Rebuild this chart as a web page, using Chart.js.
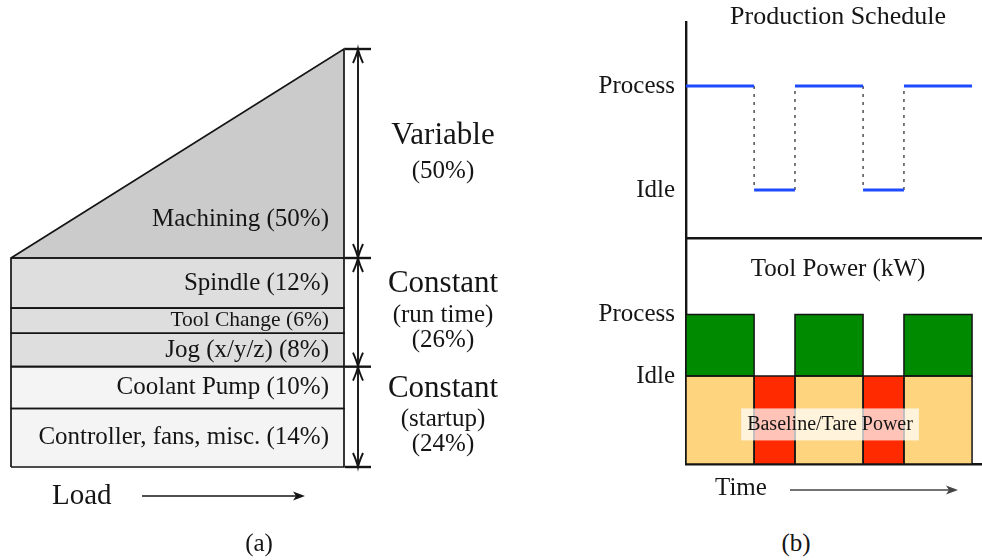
<!DOCTYPE html>
<html>
<head>
<meta charset="utf-8">
<script src="https://cdn.jsdelivr.net/npm/chart.js@4.4.1/dist/chart.umd.min.js"></script>
<style>
  html, body { margin: 0; padding: 0; background: #fff; overflow: hidden; }
  body { width: 982px; height: 560px; position: relative; font-family: "Liberation Serif", "DejaVu Serif", serif; }
  canvas { position: absolute; }
  #loadChart { left: 0; top: 0; }
  #scheduleChart { left: 560px; top: 0; }
  #powerChart { left: 560px; top: 236px; }
  .cap { position: absolute; top: 530px; font-size: 25px; line-height: 25px; color: #151515; transform: translateX(-50%); }
</style>
</head>
<body>
<canvas id="loadChart" width="540" height="560"></canvas>
<canvas id="scheduleChart" width="422" height="240"></canvas>
<canvas id="powerChart" width="422" height="270"></canvas>
<div class="cap" style="left:259px">(a)</div>
<div class="cap" style="left:796px">(b)</div>

<script>
// ---------- (a) share of energy per consumer, against machine load ----------
const loadRange = [0, 1];
const bandNames = ['Controller, fans, misc.', 'Coolant Pump', 'Jog (x/y/z)', 'Tool Change', 'Spindle', 'Machining'];
const bandShares = [14, 10, 8, 6, 12, 50];
const bandVariable = [false, false, false, false, false, true];
const groupTitles = ['Constant', 'Constant', 'Variable'];
const groupNotes = [['(startup)'], ['(run time)'], []];
const groupShares = [24, 26, 50];

// ---------- (b) production schedule and tool power over time ----------
const phaseBounds = [0, 5, 8, 13, 16, 21];
const phaseStates = ['Process', 'Idle', 'Process', 'Idle', 'Process'];
const stateNames = ['Idle', 'Process'];
const scheduleLevels = [0, 1];
const basePower = 1.0;      // baseline / tare power
const processPower = 1.7;   // power while cutting
const powerTickValues = [basePower, processPower];

// ---------- styling ----------
const ink = '#151515';
const serif = '"Liberation Serif", "DejaVu Serif", serif';
const bandColors = ['#f4f4f4', '#f4f4f4', '#dedede', '#dedede', '#dedede', '#cbcbcb'];
const bandFontSizes = [25, 25, 25, 21.5, 25, 25];
const colProcess = '#008a00', colBase = '#fed47f', colIdle = '#ff2a00', colSchedule = '#1e4bff';

Chart.defaults.font.family = serif;
Chart.defaults.color = ink;

// A filled region (top edge hi0 -> hi1, down to lo) plus its closed outline.
function region(x0, x1, lo, hi0, hi1, color, outlineWidth) {
  return [
    {
      data: [{x: x0, y: hi0}, {x: x1, y: hi1}],
      fill: {value: lo}, backgroundColor: color,
      borderWidth: 0, pointRadius: 0, order: 2
    },
    {
      data: [{x: x0, y: lo}, {x: x0, y: hi0}, {x: x1, y: hi1}, {x: x1, y: lo}, {x: x0, y: lo}],
      fill: false, borderColor: ink, borderWidth: outlineWidth,
      pointRadius: 0, clip: false, order: 1, borderJoinStyle: 'miter'
    }
  ];
}

function solidArrow(ctx, x0, x1, y, color, width) {
  ctx.save();
  ctx.strokeStyle = color; ctx.fillStyle = color; ctx.lineWidth = width;
  ctx.beginPath(); ctx.moveTo(x0, y); ctx.lineTo(x1 - 8, y); ctx.stroke();
  ctx.beginPath(); ctx.moveTo(x1, y); ctx.lineTo(x1 - 12, y - 4.5); ctx.lineTo(x1 - 9, y); ctx.lineTo(x1 - 12, y + 4.5); ctx.closePath(); ctx.fill();
  ctx.restore();
}

function openHead(ctx, x, y, dir) {
  ctx.beginPath();
  ctx.moveTo(x - 5, y - dir * 14);
  ctx.quadraticCurveTo(x - 1, y - dir * 5, x, y);
  ctx.quadraticCurveTo(x + 1, y - dir * 5, x + 5, y - dir * 14);
  ctx.stroke();
}

function drawAll() {
// ---------- chart (a) ----------
const loadSets = [];
{
  let lo = 0;
  bandShares.forEach((s, i) => {
    const hi = lo + s;
    loadSets.push(...region(loadRange[0], loadRange[1], lo, bandVariable[i] ? lo : hi, hi, bandColors[i], 1.7));
    lo = hi;
  });
}

const loadNotes = {
  id: 'loadNotes',
  afterDatasetsDraw(chart) {
    const {ctx, chartArea: a, scales: {x, y}} = chart;
    const right = x.getPixelForValue(loadRange[1]);
    ctx.save();
    ctx.fillStyle = ink;
    ctx.textBaseline = 'middle';
    ctx.textAlign = 'right';
    let lo = 0;
    bandNames.forEach((name, i) => {
      const hi = lo + bandShares[i];
      const yb = y.getPixelForValue(lo), yt = y.getPixelForValue(hi);
      const ty = bandVariable[i] ? yb - 39 : (yb + yt) / 2;
      ctx.font = bandFontSizes[i] + 'px ' + serif;
      ctx.fillText(name + ' (' + bandShares[i] + '%)', right - 15, ty);
      lo = hi;
    });

    // group brackets with double arrows
    const bounds = [0];
    groupShares.forEach(s => bounds.push(bounds[bounds.length - 1] + s));
    const bx = right + 14;
    ctx.strokeStyle = ink;
    ctx.lineWidth = 2.4;
    bounds.forEach(v => {
      const py = y.getPixelForValue(v);
      ctx.beginPath(); ctx.moveTo(right + 1, py); ctx.lineTo(right + 27, py); ctx.stroke();
    });
    ctx.lineWidth = 1.9;
    ctx.textAlign = 'center';
    groupShares.forEach((s, g) => {
      const p0 = y.getPixelForValue(bounds[g]), p1 = y.getPixelForValue(bounds[g + 1]);
      ctx.beginPath(); ctx.moveTo(bx, p0); ctx.lineTo(bx, p1); ctx.stroke();
      openHead(ctx, bx, p1, -1);
      openHead(ctx, bx, p0, 1);
      const lines = [groupTitles[g], ...groupNotes[g], '(' + s + '%)'];
      const offs = lines.length === 2 ? [-18, 18] : [-28, 3, 28];
      const cy = (p0 + p1) / 2, cx = right + 99;
      lines.forEach((t, k) => {
        ctx.font = (k === 0 ? 31 : 25) + 'px ' + serif;
        ctx.fillText(t, cx, cy + offs[k]);
      });
    });

    // load axis caption
    ctx.textAlign = 'left';
    ctx.font = '29px ' + serif;
    ctx.fillText('Load', a.left + 41, a.bottom + 29);
    ctx.restore();
    solidArrow(ctx, a.left + 131, a.left + 294, a.bottom + 29, ink, 1.5);
  }
};

new Chart(document.getElementById('loadChart'), {
  type: 'line',
  data: {datasets: loadSets},
  options: {
    responsive: false, animation: false, devicePixelRatio: 1, events: [],
    layout: {padding: {left: 11, top: 49, right: 196, bottom: 93}},
    plugins: {legend: {display: false}, tooltip: {enabled: false}},
    scales: {
      x: {type: 'linear', display: false, min: loadRange[0], max: loadRange[1]},
      y: {type: 'linear', display: false, min: 0, max: 100}
    }
  },
  plugins: [loadNotes]
});

// ---------- chart (b), upper: production schedule ----------
const levelOf = s => scheduleLevels[stateNames.indexOf(s)];
const schedulePoints = [];
const switchPoints = [];
phaseStates.forEach((s, i) => {
  const lv = levelOf(s);
  schedulePoints.push({x: phaseBounds[i], y: lv}, {x: phaseBounds[i + 1], y: lv}, {x: phaseBounds[i + 1], y: null});
  if (i > 0) {
    switchPoints.push({x: phaseBounds[i], y: levelOf(phaseStates[i - 1])}, {x: phaseBounds[i], y: lv}, {x: phaseBounds[i], y: null});
  }
});

const timeMax = 21.73;

function stateAxis(min, max, values) {
  return {
    type: 'linear', min, max,
    afterBuildTicks: s => { s.ticks = values.map(v => ({value: v})); },
    afterFit: s => { s.width = 126; s.paddingTop = 0; s.paddingBottom = 0; },
    ticks: {
      padding: 11, color: ink, font: {size: 25, family: serif},
      callback: v => stateNames[values.indexOf(v)]
    },
    grid: {display: false, drawTicks: false, tickLength: 0},
    border: {display: true, color: ink, width: 2.4}
  };
}
function timeAxis() {
  return {
    type: 'linear', min: 0, max: timeMax,
    afterFit: s => { s.height = 0; s.paddingLeft = 0; s.paddingRight = 0; },
    ticks: {display: false},
    grid: {display: false, drawTicks: false, tickLength: 0},
    border: {display: true, color: ink, width: 2.4}
  };
}

const scheduleTitle = {
  id: 'scheduleTitle',
  afterDraw(chart) {
    const {ctx, chartArea: a} = chart;
    ctx.save();
    ctx.fillStyle = ink; ctx.textAlign = 'center'; ctx.textBaseline = 'middle';
    ctx.font = '26px ' + serif;
    ctx.fillText('Production Schedule', a.left + a.width / 2 + 4, 17);
    ctx.restore();
  }
};

new Chart(document.getElementById('scheduleChart'), {
  type: 'line',
  data: {
    datasets: [
      {data: schedulePoints, borderColor: colSchedule, borderWidth: 3, pointRadius: 0, spanGaps: false, fill: false, clip: false, order: 1},
      {data: switchPoints, borderColor: '#333', borderWidth: 1.3, borderDash: [3, 5], pointRadius: 0, spanGaps: false, fill: false, order: 2}
    ]
  },
  options: {
    responsive: false, animation: false, devicePixelRatio: 1, events: [],
    layout: {padding: {left: 0, right: 0, top: 22, bottom: 2}},
    plugins: {legend: {display: false}, tooltip: {enabled: false}},
    scales: {x: timeAxis(), y: stateAxis(-0.46, 1.615, scheduleLevels)}
  },
  plugins: [scheduleTitle]
});

// ---------- chart (b), lower: tool power ----------
const powerSets = [];
phaseStates.forEach((s, i) => {
  const x0 = phaseBounds[i], x1 = phaseBounds[i + 1];
  const cutting = s === 'Process';
  powerSets.push(...region(x0, x1, 0, basePower, basePower, cutting ? colBase : colIdle, 1.5));
  if (cutting) powerSets.push(...region(x0, x1, basePower, processPower, processPower, colProcess, 1.5));
});

const powerNotes = {
  id: 'powerNotes',
  afterDraw(chart) {
    const {ctx, chartArea: a, scales: {x, y}} = chart;
    ctx.save();
    ctx.fillStyle = ink; ctx.textAlign = 'center'; ctx.textBaseline = 'middle';
    ctx.font = '25px ' + serif;
    ctx.fillText('Tool Power (kW)', a.left + a.width / 2 + 4, a.top + 31);

    const cx = x.getPixelForValue(phaseBounds[phaseBounds.length - 1] / 2) + 1;
    const cy = y.getPixelForValue(basePower * 0.45);
    ctx.font = '20px ' + serif;
    const label = 'Baseline/Tare Power';
    const w = ctx.measureText(label).width + 12;
    ctx.fillStyle = 'rgba(255,255,255,0.72)';
    ctx.fillRect(cx - w / 2, cy - 16, w, 32);
    ctx.fillStyle = ink;
    ctx.fillText(label, cx, cy);

    ctx.textAlign = 'left';
    ctx.font = '25px ' + serif;
    ctx.fillText('Time', a.left + 29, a.bottom + 24);
    ctx.restore();
    solidArrow(ctx, a.left + 104, a.left + 272, a.bottom + 26, '#444', 1.5);
  }
};

new Chart(document.getElementById('powerChart'), {
  type: 'line',
  data: {datasets: powerSets},
  options: {
    responsive: false, animation: false, devicePixelRatio: 1, events: [],
    layout: {padding: {left: 0, right: 0, top: 2, bottom: 42}},
    plugins: {legend: {display: false}, tooltip: {enabled: false}},
    scales: {
      x: timeAxis(),
      y: Object.assign(stateAxis(0, 2.57, powerTickValues), {
        ticks: {
          padding: 11, color: ink, font: {size: 25, family: serif},
          callback: v => stateNames[powerTickValues.indexOf(v)]
        }
      })
    }
  },
  plugins: [powerNotes]
});
}

// wait for the serif face before painting canvas text
Promise.all([
  document.fonts.load('25px "Liberation Serif"'),
  document.fonts.load('25px "DejaVu Serif"')
]).catch(() => {}).then(drawAll);
</script>
</body>
</html>
